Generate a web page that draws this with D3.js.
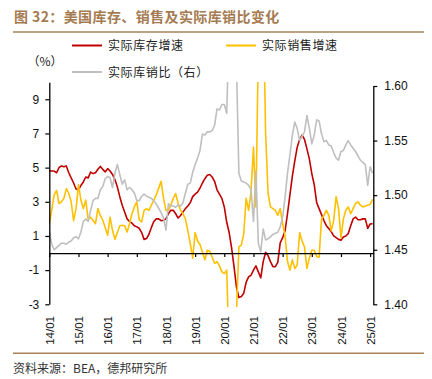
<!DOCTYPE html>
<html><head><meta charset="utf-8">
<script src="https://cdn.jsdelivr.net/npm/d3@7"></script>
<style>body{margin:0;background:#fff;} svg{display:block}</style>
</head><body>
<svg id="c" width="432" height="379"></svg>
<script>
// ---- data (monthly, 2014/01 .. 2025/02) ----
const firstMonth = "2014-01";
const yearLabels = ["14/01","15/01","16/01","17/01","18/01","19/01","20/01","21/01","22/01","23/01","24/01","25/01"];
const leftTicks = [-3, -1, 1, 3, 5, 7, 9];
const rightTicks = [1.40, 1.45, 1.50, 1.55, 1.60];

const inventoryGrowth = [
 4.8,4.8,4.8,4.7,5.0,5.1,5.05,5.1,4.7,4.4,
 4.1,3.75,3.7,3.95,4.16,4.45,4.4,4.74,4.65,4.7,
 4.9,5.07,4.9,4.75,4.94,4.8,4.6,4.3,3.87,3.3,
 2.8,2.4,2.0,1.85,1.75,1.6,1.53,1.45,1.2,0.8,
 0.85,1.1,1.5,1.85,2.0,2.0,1.9,1.92,2.0,2.3,
 2.5,2.5,2.3,2.05,2.2,2.4,2.6,2.75,2.95,3.3,
 3.45,3.57,3.8,4.1,4.35,4.55,4.6,4.45,4.2,3.7,
 3.45,3.2,2.7,1.8,1.2,0.3,-0.8,-2.0,-2.6,-2.55,
 -2.35,-1.7,-1.4,-1.3,-1.0,-0.75,-1.1,-1.45,-0.5,0.05,
 -0.15,-0.5,-0.8,-0.8,-0.55,0.6,0.9,1.3,2.3,3.4,
 4.5,5.4,6.2,6.65,6.9,6.65,6.1,5.5,4.65,4.0,
 2.95,2.6,2.25,1.9,1.6,1.43,1.25,1.0,0.9,0.8,
 0.75,0.94,1.0,1.14,1.6,2.0,2.1,1.95,1.95,2.0,
 2.0,1.45,1.7,1.72
];
const salesGrowth = [
 1.72,2.5,3.4,3.67,2.9,3.0,3.2,3.77,3.5,3.0,
 1.9,2.6,4.0,3.1,2.6,3.1,1.95,2.1,1.9,1.72,
 2.6,2.2,1.92,1.5,1.04,2.1,1.33,0.8,1.2,1.6,
 1.63,1.6,1.23,1.7,2.3,2.7,3.0,1.95,1.82,2.5,
 2.6,2.5,2.8,3.1,3.4,3.8,4.2,3.2,2.5,2.5,
 2.8,3.2,3.48,2.9,2.5,2.3,2.0,1.3,0.55,-0.3,
 1.2,0.7,0.5,0.06,-0.4,0.16,0.1,-0.23,-0.6,-0.5,
 -0.75,-1.1,-1.2,-1.0,-6,-12,-6,-3.5,0.36,0.46,
 1.14,3.2,2.5,3.6,6.2,2.7,12,20,15,7,
 3.5,2.7,2.6,2.5,2.2,2.6,1.72,1.0,-0.5,-1.0,
 -0.4,-0.9,-0.7,1.2,0.7,0.36,-0.9,-0.3,0.16,0.16,
 -0.2,-0.25,2.0,2.2,2.5,2.2,1.3,1.9,3.3,2.6,
 0.9,2.0,2.5,2.7,2.3,2.6,2.9,3.0,2.8,2.7,
 2.75,2.8,2.85,3.15
];
const invSalesRatio = [
 1.467,1.455,1.450,1.452,1.454,1.456,1.456,1.455,1.457,1.458,
 1.461,1.462,1.460,1.466,1.476,1.478,1.476,1.486,1.495,1.497,
 1.497,1.505,1.508,1.515,1.517,1.516,1.507,1.520,1.528,1.519,
 1.510,1.514,1.505,1.507,1.505,1.502,1.495,1.495,1.499,1.501,
 1.499,1.498,1.497,1.495,1.492,1.488,1.484,1.479,1.468,1.492,
 1.490,1.490,1.489,1.491,1.490,1.493,1.502,1.510,1.511,1.521,
 1.528,1.534,1.541,1.556,1.555,1.558,1.558,1.559,1.564,1.579,
 1.578,1.583,1.583,1.575,1.66,1.72,1.68,1.62,1.520,1.513,
 1.512,1.511,1.509,1.505,1.476,1.522,1.456,1.448,1.469,1.459,
 1.460,1.462,1.464,1.465,1.466,1.471,1.480,1.498,1.520,1.537,
 1.555,1.567,1.561,1.550,1.554,1.558,1.573,1.561,1.547,1.555,
 1.569,1.568,1.556,1.549,1.550,1.546,1.545,1.539,1.534,1.532,
 1.540,1.541,1.546,1.550,1.546,1.543,1.540,1.536,1.532,1.530,
 1.528,1.509,1.526,1.520
];

const series = [
  {name: "实际库存增速", values: inventoryGrowth, color: "#c00000", axis: "L"},
  {name: "实际销售增速", values: salesGrowth, color: "#ffc000", axis: "L"},
  {name: "实际库销比（右）", values: invSalesRatio, color: "#bfbfbf", axis: "R"}
];

const svg = d3.select("#c");
const numFont = "'Liberation Sans', Arial, sans-serif";
const cjkFont = "'Noto Sans CJK SC', sans-serif";
const brown = "#a98256";

// scales
const x = d3.scaleLinear().domain([0, 133.3]).range([49.3, 373.3]);
const yL = d3.scaleLinear().domain([-3, 10]).range([304.3, 82.2]);
const yR = d3.scaleLinear().domain([1.40, 1.60]).range([304.3, 86]);

// title
svg.append("text").attr("x", 14).attr("y", 21.5)
  .attr("font-family", cjkFont).attr("font-size", 14).attr("font-weight", "bold")
  .attr("letter-spacing", 0.4).attr("fill", "#a57b51")
  .text("图 32：美国库存、销售及实际库销比变化");
svg.append("line").attr("x1", 13).attr("x2", 424).attr("y1", 32).attr("y2", 32)
  .attr("stroke", brown).attr("stroke-width", 1.5);
svg.append("line").attr("x1", 13).attr("x2", 424).attr("y1", 353.3).attr("y2", 353.3)
  .attr("stroke", brown).attr("stroke-width", 1.5);
svg.append("text").attr("x", 13).attr("y", 372.5)
  .attr("font-family", cjkFont).attr("font-size", 12).attr("fill", "#333")
  .text("资料来源：BEA，德邦研究所");

// legend
const legendPos = [[72, 45.5], [226, 45.5], [72, 72]];
series.forEach((s, i) => {
  const [lx, ly] = legendPos[i];
  svg.append("line").attr("x1", lx).attr("x2", lx + 30).attr("y1", ly).attr("y2", ly)
    .attr("stroke", s.color).attr("stroke-width", 2);
  svg.append("text").attr("x", lx + 36).attr("y", ly + 4.5)
    .attr("font-family", cjkFont).attr("font-size", 12).attr("letter-spacing", 0.6)
    .attr("fill", "#222").text(s.name);
});
svg.append("text").attr("x", 45).attr("y", 65.5).attr("text-anchor", "middle")
  .attr("font-family", cjkFont).attr("font-size", 12).attr("fill", "#222").text("（%）");

// clip
svg.append("defs").append("clipPath").attr("id", "plot")
  .append("rect").attr("x", 49).attr("y", 82).attr("width", 325).attr("height", 225);

// lines
const g = svg.append("g").attr("clip-path", "url(#plot)");
series.forEach(s => {
  const yy = s.axis === "L" ? yL : yR;
  const line = d3.line().x((d, i) => x(i)).y(d => yy(d));
  g.append("path").datum(s.values).attr("d", line)
    .attr("fill", "none").attr("stroke", s.color).attr("stroke-width", 1.6)
    .attr("stroke-linejoin", "round");
});

function styleAxis(sel) {
  sel.selectAll("path.domain").attr("stroke", "#000").attr("stroke-width", 1.3);
  sel.selectAll(".tick line").attr("stroke", "#000").attr("stroke-width", 1.2);
  sel.selectAll("text").attr("font-family", numFont).attr("font-size", 12).attr("fill", "#111");
}

// left axis
const axL = svg.append("g").attr("transform", "translate(49.3,0)")
  .call(d3.axisLeft(yL).tickValues(leftTicks).tickSize(4).tickSizeOuter(0).tickPadding(6)
    .tickFormat(d3.format("d")));
styleAxis(axL);
axL.selectAll("text").text(d => String(d));

// right axis
const axR = svg.append("g").attr("transform", "translate(373.3,0)")
  .call(d3.axisRight(yR).tickValues(rightTicks).tickSize(4).tickSizeOuter(0).tickPadding(7)
    .tickFormat(d3.format(".2f")));
styleAxis(axR);

// bottom axis at zero
const yearIdx = yearLabels.map((_, i) => i * 12);
const axB = svg.append("g").attr("transform", `translate(0,${yL(0)})`)
  .call(d3.axisBottom(x).tickValues(yearIdx).tickSize(4).tickSizeOuter(0)
    .tickFormat((d, i) => yearLabels[i]));
styleAxis(axB);
axB.selectAll("text")
  .attr("transform", "rotate(-90)")
  .attr("text-anchor", "end")
  .attr("x", -(316 - yL(0)))
  .attr("y", 0)
  .attr("dy", "0.35em")
  .attr("font-size", 11.5);
</script>
</body></html>
